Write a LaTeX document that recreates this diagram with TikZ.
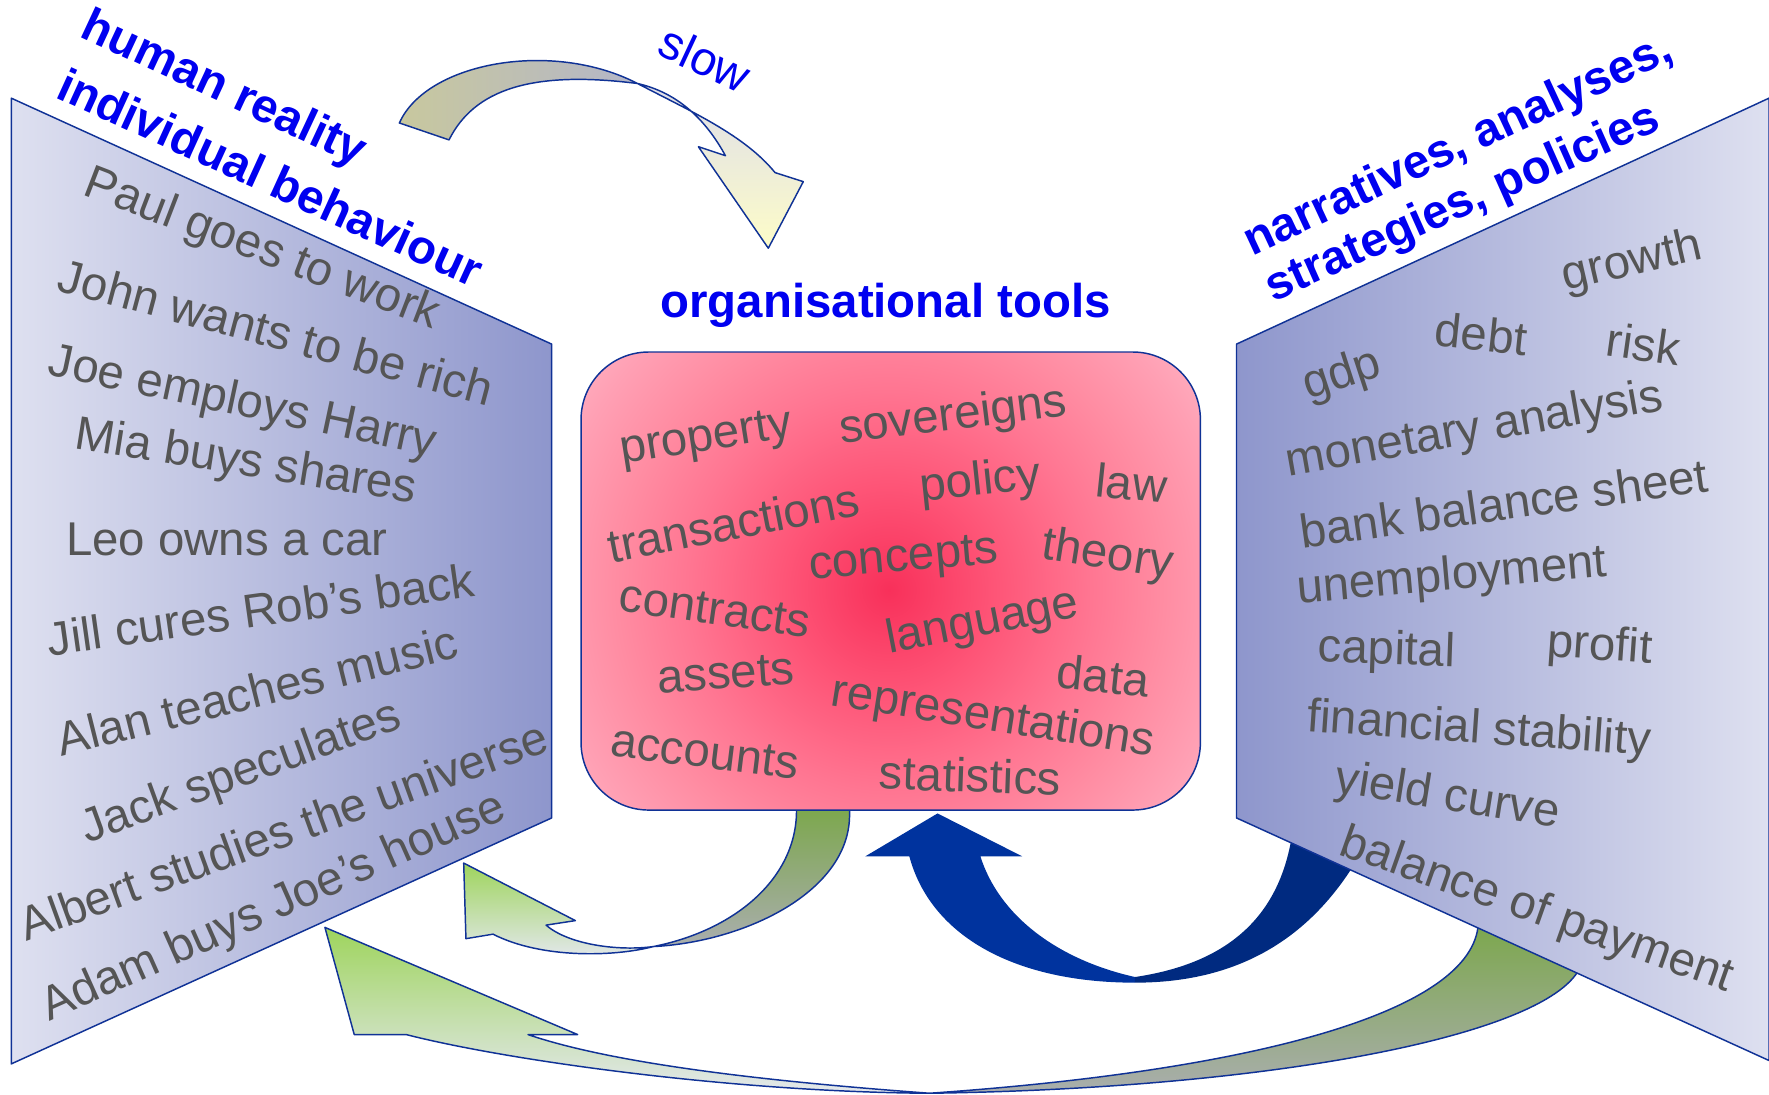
\documentclass[tikz,border=0pt]{standalone}
\usepackage{fontspec}
\setmainfont{Liberation Sans}
\definecolor{wordgray}{RGB}{85,85,85}
\definecolor{titleblue}{RGB}{0,0,240}
\definecolor{rimblue}{RGB}{16,50,150}
\definecolor{panellight}{RGB}{222,224,240}
\definecolor{paneldark}{RGB}{142,150,204}
\definecolor{boxcore}{RGB}{248,48,90}
\definecolor{boxinner}{RGB}{254,86,120}
\definecolor{boxmid}{RGB}{255,118,146}
\definecolor{boxouter}{RGB}{255,140,162}
\definecolor{boxrim}{RGB}{255,160,180}
\definecolor{boxedge}{RGB}{255,176,193}
\definecolor{leafgreen}{RGB}{118,166,64}
\definecolor{palegreen}{RGB}{158,212,92}
\definecolor{ashgray}{RGB}{170,174,174}
\definecolor{mistwhite}{RGB}{228,232,238}
\definecolor{navyback}{RGB}{0,42,128}
\definecolor{navyfront}{RGB}{0,51,158}
\definecolor{khaki}{RGB}{200,200,158}
\definecolor{lavgray}{RGB}{180,182,200}
\definecolor{lavwhite}{RGB}{222,222,234}
\definecolor{paleyellow}{RGB}{253,252,200}
% the central 50bp of a shading covers the filled shape
\pgfdeclareradialshading{toolglow}{\pgfpoint{0bp}{0bp}}{%
  color(0bp)=(boxcore); color(7bp)=(boxinner); color(13bp)=(boxmid);
  color(17.5bp)=(boxouter); color(22bp)=(boxrim); color(25bp)=(boxedge);
  color(50bp)=(boxedge)}
\newcommand\wfont{\fontsize{42}{50}\selectfont}
\begin{document}
\begin{tikzpicture}[x=1pt,y=-1pt,
  word/.style={text=wordgray,font=\wfont,inner sep=0pt},
  headline/.style={text=titleblue,font=\wfont\bfseries,inner sep=0pt},
  rim/.style={draw=rimblue,line width=1.3pt,line join=round},
]
\useasboundingbox (0,0) rectangle (1568,970);

% --- "slow" arrow over the top ---
\fill[left color=khaki,right color=lavgray]
  (354,109) .. controls (378,55) and (490,35) .. (565,74)
  .. controls (470,62) and (420,80) .. (398,124) -- cycle;
\fill[top color=lavwhite,bottom color=paleyellow]
  (565,74) .. controls (615,100) and (660,120) .. (687,153)
  -- (712,161) -- (681,220) -- (619,130) -- (643,138)
  .. controls (625,105) and (600,82) .. (565,74) -- cycle;
\draw[rim]
  (354,109) .. controls (378,55) and (490,35) .. (565,74)
  .. controls (615,100) and (660,120) .. (687,153)
  -- (712,161) -- (681,220) -- (619,130) -- (643,138)
  .. controls (625,105) and (600,82) .. (565,74)
  .. controls (470,62) and (420,80) .. (398,124) -- cycle;

% --- small green arrow from the tools back to behaviour ---
\fill[top color=leafgreen,bottom color=ashgray]
  (753,700) -- (753,720) .. controls (755,790) and (660,835) .. (579,839)
  .. controls (650,825) and (705,780) .. (706,720) -- (706,700) -- cycle;
\fill[top color=palegreen,bottom color=mistwhite]
  (579,839) .. controls (545,848) and (480,850) .. (437,828)
  -- (413,832) -- (411,765) -- (510,816) -- (484,820)
  .. controls (505,838) and (550,843) .. (579,839) -- cycle;
\draw[rim]
  (753,700) -- (753,720) .. controls (755,790) and (660,835) .. (579,839)
  .. controls (545,848) and (480,850) .. (437,828)
  -- (413,832) -- (411,765) -- (510,816) -- (484,820)
  .. controls (505,838) and (550,843) .. (579,839)
  .. controls (650,825) and (705,780) .. (706,720) -- (706,700);

% --- large green arrow from the analyses back to behaviour ---
\fill[top color=leafgreen,bottom color=ashgray]
  (1420,850) -- (1398,862) .. controls (1360,920) and (1120,965) .. (824,969)
  .. controls (1100,950) and (1300,900) .. (1310,822) -- (1320,800) -- cycle;
\fill[top color=palegreen,bottom color=mistwhite]
  (824,969) .. controls (650,968) and (450,940) .. (360,917)
  -- (314,917) -- (288,822) -- (512,917) -- (468,917)
  .. controls (550,945) and (700,960) .. (824,969) -- cycle;
\draw[rim]
  (1398,862) .. controls (1360,920) and (1120,965) .. (824,969)
  .. controls (650,968) and (450,940) .. (360,917)
  -- (314,917) -- (288,822) -- (512,917) -- (468,917)
  .. controls (550,945) and (700,960) .. (824,969)
  .. controls (1100,950) and (1300,900) .. (1310,822);

% --- blue arrow from the analyses up to the tools ---
\fill[navyfront]
  (806,759) .. controls (825,830) and (900,871) .. (1006,871)
  -- (1006,866) .. controls (935,850) and (885,810) .. (869,759)
  -- (906,759) -- (831,721) -- (767,759) -- cycle;
\fill[navyback]
  (1006,871) .. controls (1100,871) and (1170,830) .. (1215,740)
  -- (1150,720) -- (1144,747) .. controls (1130,820) and (1080,855) .. (1006,866) -- cycle;

% --- the three panels ---
\draw[rim,left color=panellight,right color=paneldark]
  (10,87) -- (489,305) -- (489,725) -- (10,943) -- cycle;
\draw[rim,left color=paneldark,right color=panellight]
  (1096,305) -- (1568,87) -- (1568,940) -- (1096,725) -- cycle;
\begin{scope}
  \clip[rounded corners=60pt] (515,312) rectangle (1064,718);
  \shade[shading=toolglow] (788,523) circle (345);
\end{scope}
\draw[rim,rounded corners=60pt] (515,312) rectangle (1064,718);

% --- headings ---
\node[headline,rotate=-25]   (hreal) at (198,80)   {human reality};
\node[headline,rotate=-24.5] (indiv) at (240,157)  {individual behaviour};
\node[headline,rotate=25]    (narr)  at (1293,130) {narratives, analyses,};
\node[headline,rotate=24]    (strat) at (1297,181) {strategies, policies};
\node[headline]              (tools) at (785,271)  {organisational tools};
\node[word,text=titleblue,rotate=-25] (slow) at (625,52) {slow};

% --- individual behaviour ---
\node[word,rotate=-21] (paul)   at (232,222) {Paul goes to work};
\node[word,rotate=-15] (john)   at (245,294) {John wants to be rich};
\node[word,rotate=-12] (joe)    at (215,358) {Joe employs Harry};
\node[word,rotate=-9]  (mia)    at (218,411) {Mia buys shares};
\node[word]            (leo)    at (201,478) {Leo owns a car};
\node[word,rotate=8]   (jill)   at (231,540) {Jill cures Rob’s back};
\node[word,rotate=14]  (alan)   at (228,612) {Alan teaches music};
\node[word,rotate=20]  (jack)   at (214,686) {Jack speculates};
\node[word,rotate=20]  (albert) at (251,736) {Albert studies the universe};
\node[word,rotate=24]  (adam)   at (243,805) {Adam buys Joe’s house};

% --- organisational tools ---
\node[word,rotate=9]  (property) at (626,390) {property};
\node[word,rotate=7]  (sover)    at (845,370) {sovereigns};
\node[word,rotate=11] (transact) at (650,463) {transactions};
\node[word,rotate=6]  (policy)   at (869,428) {policy};
\node[word,rotate=-6] (law)      at (1003,428) {law};
\node[word,rotate=5]  (concepts) at (801,497) {concepts};
\node[word,rotate=-9] (theory)   at (982,493) {theory};
\node[word,rotate=-8] (contract) at (634,540) {contracts};
\node[word,rotate=11] (language) at (871,552) {language};
\node[word,rotate=4]  (assets)   at (643,597) {assets};
\node[word,rotate=-6] (data)     at (978,599) {data};
\node[word,rotate=-9] (repres)   at (880,637) {representations};
\node[word,rotate=-7] (accounts) at (625,667) {accounts};
\node[word,rotate=-2] (stats)    at (860,687) {statistics};

% --- narratives and analyses ---
\node[word,rotate=13]    (growth)  at (1447,233) {growth};
\node[word,rotate=18]    (gdp)     at (1190,333) {gdp};
\node[word,rotate=-6]    (debt)    at (1313,296) {debt};
\node[word,rotate=-8]    (risk)    at (1457,305) {risk};
\node[word,rotate=10]    (monetary) at (1307,382) {monetary analysis};
\node[word,rotate=8]     (bank)    at (1333,446) {bank balance sheet};
\node[word,rotate=5]     (unemp)   at (1287,512) {unemployment};
\node[word,rotate=-2]    (capital) at (1229,578) {capital};
\node[word,rotate=-4]    (profit)  at (1418,574) {profit};
\node[word,rotate=-4]    (finstab) at (1311,648) {financial stability};
\node[word,rotate=-9]    (yield)   at (1283,707) {yield curve};
\node[word,rotate=-19.5] (bop)     at (1362,808) {balance of payment};
\end{tikzpicture}
\end{document}
